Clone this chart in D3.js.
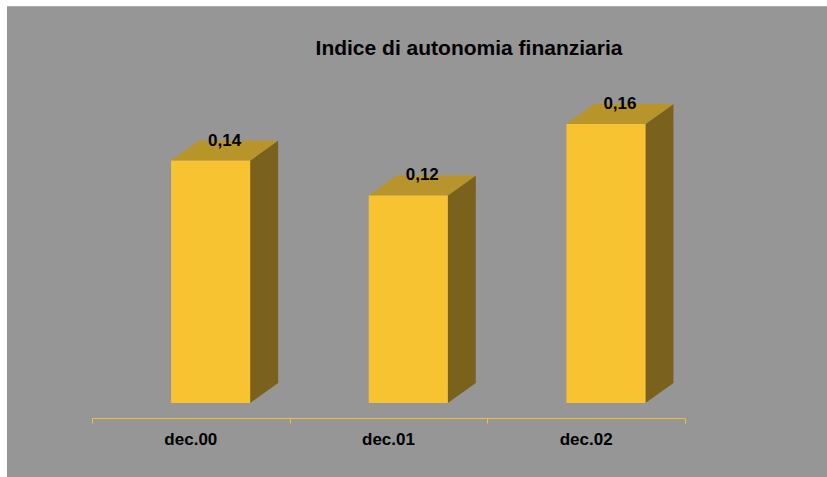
<!DOCTYPE html>
<html>
<head>
<meta charset="utf-8">
<script src="https://cdn.jsdelivr.net/npm/d3@7"></script>
<style>
  body { margin: 0; background: #ffffff; }
  text { font-family: "Liberation Sans", Arial, sans-serif; font-weight: bold; fill: #000; }
</style>
</head>
<body>
<div id="chart"></div>
<script>
var categories = ["dec.00", "dec.01", "dec.02"];
var values = [0.139, 0.119, 0.16];
var valueLabels = ["0,14", "0,12", "0,16"];
var title = "Indice di autonomia finanziaria";

var width = 827, height = 477;
var depthX = 28, depthY = 20;

var svg = d3.select('#chart')
	.append('svg')
	.attr('width', width)
	.attr('height', height);

// grey chart area
svg.append('rect')
	.attr('x', 7)
	.attr('y', 6)
	.attr('width', width - 7)
	.attr('height', height - 6)
	.attr('fill', '#969696');
svg.append('line')
	.attr('x1', 7).attr('x2', width)
	.attr('y1', 6.5).attr('y2', 6.5)
	.attr('stroke', '#a8a8a8');

var x = d3.scaleBand().domain(categories).range([92, 685]);
var y = d3.scaleLinear().domain([0, 0.2]).range([403, 54.25]);

var barOffset = x.bandwidth() * 0.4;
var barWidth = x.bandwidth() * 0.4;

var bars = svg.selectAll('.bar')
	.data(values)
	.enter()
	.append('g')
	.attr('class', 'bar');

// side face
bars.append('path')
	.attr('fill', '#7b621c')
	.attr('d', function(d, i) {
		var x1 = x(categories[i]) + barOffset + barWidth;
		return 'M' + x1 + ',' + y(0) + 'L' + (x1 + depthX) + ',' + (y(0) - depthY) +
			'L' + (x1 + depthX) + ',' + (y(d) - depthY) + 'L' + x1 + ',' + y(d) + 'Z';
	});

// top face
bars.append('path')
	.attr('fill', '#b8952a')
	.attr('d', function(d, i) {
		var x0 = x(categories[i]) + barOffset;
		return 'M' + x0 + ',' + y(d) + 'L' + (x0 + depthX) + ',' + (y(d) - depthY) +
			'L' + (x0 + barWidth + depthX) + ',' + (y(d) - depthY) + 'L' + (x0 + barWidth) + ',' + y(d) + 'Z';
	});

// front face
bars.append('rect')
	.attr('fill', '#f8c331')
	.attr('x', function(d, i) { return x(categories[i]) + barOffset; })
	.attr('y', function(d) { return y(d); })
	.attr('width', barWidth)
	.attr('height', function(d) { return y(0) - y(d); });

// value labels
bars.append('text')
	.attr('x', function(d, i) { return x(categories[i]) + barOffset + barWidth / 2 + depthX / 2; })
	.attr('y', function(d) { return y(d) - 15; })
	.attr('text-anchor', 'middle')
	.style('font-size', '17px')
	.text(function(d, i) { return valueLabels[i]; });

// category axis
var axis = svg.append('g')
	.attr('transform', 'translate(0,418.5)')
	.call(d3.axisBottom(x).tickSize(0).tickPadding(0));
axis.select('.domain').remove();
axis.selectAll('text').remove();
axis.append('line')
	.attr('x1', 92).attr('x2', 685)
	.attr('stroke', '#f0c030');
axis.selectAll('.tickmark')
	.data([92, 92 + x.step(), 92 + 2 * x.step(), 685])
	.enter()
	.append('line')
	.attr('x1', function(d) { return Math.round(d) + 0.5; })
	.attr('x2', function(d) { return Math.round(d) + 0.5; })
	.attr('y1', 0).attr('y2', 5)
	.attr('stroke', '#f0c030');

svg.selectAll('.cat')
	.data(categories)
	.enter()
	.append('text')
	.attr('class', 'cat')
	.attr('x', function(d) { return x(d) + x.bandwidth() / 2; })
	.attr('y', 445)
	.attr('text-anchor', 'middle')
	.style('font-size', '17px')
	.text(function(d) { return d; });

svg.append('text')
	.attr('x', 469)
	.attr('y', 55)
	.attr('text-anchor', 'middle')
	.style('font-size', '21px')
	.text(title);
</script>
</body>
</html>
